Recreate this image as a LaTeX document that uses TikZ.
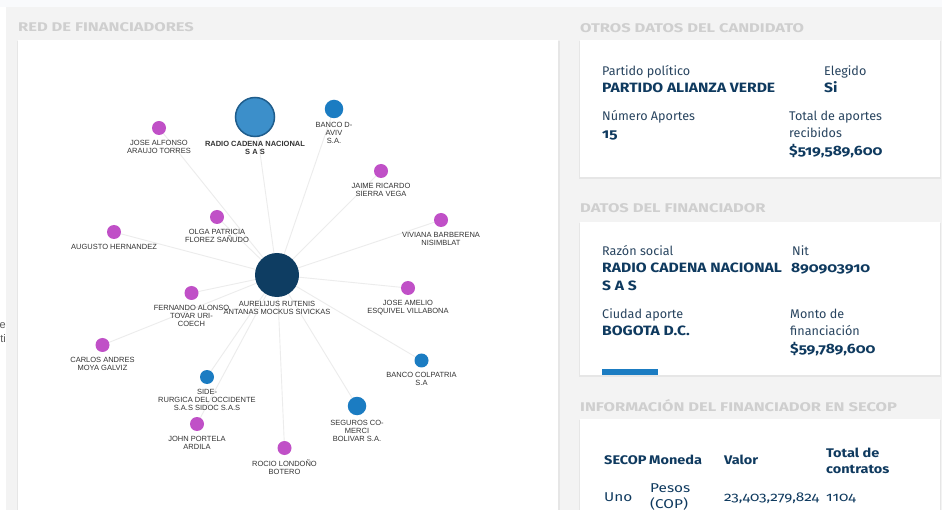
\documentclass[tikz,border=0pt]{standalone}
\usepackage{fontspec}
\newfontfamily\arialf{Liberation Sans}
\newfontfamily\firaf[Numbers=OldStyle]{Fira Sans}
\newfontfamily\firaw[Numbers=OldStyle,FakeStretch=1.16]{Fira Sans}
\newfontfamily\firat[Numbers=OldStyle,FakeStretch=1.2]{Fira Sans}
\newfontfamily\firah[FakeStretch=1.31]{Fira Sans}
\definecolor{pagebg}{HTML}{F3F3F3}
\definecolor{topbg}{HTML}{F9FAFC}
\definecolor{edgec}{HTML}{ECECEC}
\definecolor{magc}{HTML}{C050C7}
\definecolor{bluec}{HTML}{1B7CC2}
\definecolor{radioc}{HTML}{3C8FCA}
\definecolor{radiob}{HTML}{1F5D8C}
\definecolor{navyc}{HTML}{0E3D62}
\definecolor{labc}{HTML}{333333}
\definecolor{ttlc}{HTML}{CFCFCF}
\definecolor{txtc}{HTML}{28445F}
\definecolor{valc}{HTML}{0F3A5F}
\definecolor{shadc}{HTML}{E6E6E6}
\pgfdeclarelayer{bg}
\pgfdeclarelayer{edges}
\pgfsetlayers{bg,edges,main}
\tikzset{
  mag/.style={circle,fill=magc,minimum size=14pt,inner sep=0pt},
  smallblue/.style={circle,fill=bluec,minimum size=14pt,inner sep=0pt},
  midblue/.style={circle,fill=bluec,minimum size=18.5pt,inner sep=0pt},
  lab/.style={font=\arialf\fontsize{7.5}{8}\selectfont,text=labc,align=center,inner sep=0pt,anchor=north},
  edge/.style={draw=edgec,line width=0.9pt},
  card/.style={fill=white},
  shad/.style={fill=shadc},
  ttl/.style={font=\firah\bfseries\fontsize{12.6}{14}\selectfont,text=ttlc,anchor=base west,inner sep=0pt},
  lbl/.style={font=\firaf\fontsize{12.6}{14}\selectfont,text=txtc,anchor=base west,inner sep=0pt},
  val/.style={font=\firaw\bfseries\fontsize{13.5}{15}\selectfont,text=valc,anchor=base west,inner sep=0pt},
  thead/.style={font=\firaw\bfseries\fontsize{12.5}{15}\selectfont,text=valc,anchor=base west,inner sep=0pt},
  tval/.style={font=\firat\fontsize{12.8}{15}\selectfont,text=valc,anchor=base west,inner sep=0pt},
}
\begin{document}
\begin{tikzpicture}[x=1pt,y=-1pt]
\useasboundingbox (0,0) rectangle (942,510);
\begin{pgfonlayer}{bg}
  \fill[white] (0,0) rectangle (942,510);
  \fill[topbg] (0,0) rectangle (942,7);
  \fill[pagebg] (6,7) rectangle (942,510);
  % left card
  \fill[shad] (17,41) rectangle (559.5,510);
  \fill[card] (18,40) rectangle (558,510);
  % right cards
  \fill[shad] (579,41) rectangle (941,179);
  \fill[card] (580,40) rectangle (940,177);
  \fill[shad] (579,223) rectangle (941,377);
  \fill[card] (580,222) rectangle (940,375);
  \fill[bluec] (602,369) rectangle (657.5,375);
  \fill[shad] (579,420) rectangle (941,510);
  \fill[card] (580,419) rectangle (940,510);
  \begin{scope}
    \clip (0,300) rectangle (6,360);
    \node[font=\arialf\fontsize{11}{13}\selectfont,text=labc!80,anchor=base east,inner sep=0pt] (frag1) at (6,329) {ie};
    \node[font=\arialf\fontsize{11}{13}\selectfont,text=labc!80,anchor=base east,inner sep=0pt] (frag2) at (6,343) {ti};
  \end{scope}
\end{pgfonlayer}

% headings
\node[ttl] (h1) at (18,32) {RED DE FINANCIADORES};
\node[ttl] (h2) at (580,33) {OTROS DATOS DEL CANDIDATO};
\node[ttl] (h3) at (580,213) {DATOS DEL FINANCIADOR};
\node[ttl] (h4) at (580,411) {INFORMACIÓN DEL FINANCIADOR EN SECOP};

% graph nodes
\node[circle,fill=navyc,minimum size=44pt,inner sep=0pt] (cen) at (277,275) {};
\node[circle,fill=radioc,draw=radiob,line width=1.5pt,minimum size=39pt,inner sep=0pt] (rad) at (255,117) {};
\node[midblue] (bda) at (334,109) {};
\node[mag] (jaf) at (159,128) {};
\node[mag] (jrs) at (381,171) {};
\node[mag] (olg) at (217,217) {};
\node[mag] (viv) at (441,220) {};
\node[mag] (aug) at (114,232) {};
\node[mag] (fer) at (191.5,293) {};
\node[mag] (jam) at (408,288) {};
\node[mag] (car) at (102.5,345) {};
\node[smallblue] (bco) at (421.5,360.5) {};
\node[smallblue] (sid) at (207,377) {};
\node[midblue] (seg) at (357,406) {};
\node[mag] (joh) at (197,424) {};
\node[mag] (roc) at (284.5,448) {};

% labels
\node[lab] (cenl) at ([yshift=-3.5pt]cen.south) {AURELIJUS RUTENIS\\ANTANAS MOCKUS SIVICKAS};
\node[lab,font=\arialf\bfseries\fontsize{7.5}{8}\selectfont] (radl) at ([yshift=-3.5pt]rad.south) {RADIO CADENA NACIONAL\\S A S};
\node[lab] (bdal) at ([yshift=-4pt]bda.south) {BANCO D-\\AVIV\\S.A.};
\node[lab] (jafl) at ([yshift=-4.5pt]jaf.south) {JOSE ALFONSO\\ARAUJO TORRES};
\node[lab] (jrsl) at ([yshift=-4.5pt]jrs.south) {JAIME RICARDO\\SIERRA VEGA};
\node[lab] (olgl) at ([yshift=-4.5pt]olg.south) {OLGA PATRICIA\\FLOREZ SAÑUDO};
\node[lab] (vivl) at ([yshift=-4.5pt]viv.south) {VIVIANA BARBERENA\\NISIMBLAT};
\node[lab] (augl) at ([yshift=-4.5pt]aug.south) {AUGUSTO HERNANDEZ};
\node[lab] (ferl) at ([yshift=-4.5pt]fer.south) {FERNANDO ALONSO\\TOVAR URI-\\COECH};
\node[lab] (jaml) at ([yshift=-4.5pt]jam.south) {JOSE AMELIO\\ESQUIVEL VILLABONA};
\node[lab] (carl) at ([yshift=-4.5pt]car.south) {CARLOS ANDRES\\MOYA GALVIZ};
\node[lab] (bcol) at ([yshift=-4.5pt]bco.south) {BANCO COLPATRIA\\S.A};
\node[lab] (sidl) at ([yshift=-4.5pt]sid.south) {SIDE-\\RURGICA DEL OCCIDENTE\\S.A.S SIDOC S.A.S};
\node[lab] (segl) at ([yshift=-4.5pt]seg.south) {SEGUROS CO-\\MERCI\\BOLIVAR S.A.};
\node[lab] (johl) at ([yshift=-4.5pt]joh.south) {JOHN PORTELA\\ARDILA};
\node[lab] (rocl) at ([yshift=-4.5pt]roc.south) {ROCIO LONDOÑO\\BOTERO};

% edges
\begin{pgfonlayer}{edges}
  \foreach \n in {rad,bda,jaf,jrs,olg,viv,aug,fer,jam,car,bco,sid,seg,joh,roc}
    \draw[edge] (cen.center) -- (\n.center);
\end{pgfonlayer}

% card 1
\node[lbl] (pp) at (602,76) {Partido político};
\node[val] (ppv) at (602,93) {PARTIDO ALIANZA VERDE};
\node[lbl] (el) at (824,76) {Elegido};
\node[val] (elv) at (824,93) {Si};
\node[lbl] (na) at (602,121) {Número Aportes};
\node[val] (nav) at (602,139) {15};
\node[lbl] (ta1) at (789,121) {Total de aportes};
\node[lbl] (ta2) at (789,138) {recibidos};
\node[val] (tav) at (789,156) {\$519,589,600};

% card 2
\node[lbl] (rs) at (602,256) {Razón social};
\node[val] (rsv1) at (602,273) {RADIO CADENA NACIONAL};
\node[val] (rsv2) at (602,291) {S A S};
\node[lbl] (nit) at (792,256) {Nit};
\node[val] (nitv) at (791,273) {890903910};
\node[lbl] (ca) at (602,319) {Ciudad aporte};
\node[val] (cav) at (602,336) {BOGOTA D.C.};
\node[lbl] (mf1) at (790,319) {Monto de};
\node[lbl] (mf2) at (790,336) {financiación};
\node[val] (mfv) at (790,354) {\$59,789,600};

% card 3 table
\node[thead] (th1) at (604,464) {SECOP};
\node[thead] (th2) at (649,464) {Moneda};
\node[thead] (th3) at (724,464) {Valor};
\node[thead] (th4a) at (826,457) {Total de};
\node[thead] (th4b) at (826,473) {contratos};
\node[tval] (td1) at (604,501) {Uno};
\node[tval] (td2a) at (650,492) {Pesos};
\node[tval] (td2b) at (650,508) {(COP)};
\node[tval] (td3) at (724,501) {23,403,279,824};
\node[tval] (td4) at (826,501) {1104};
\end{tikzpicture}
\end{document}
